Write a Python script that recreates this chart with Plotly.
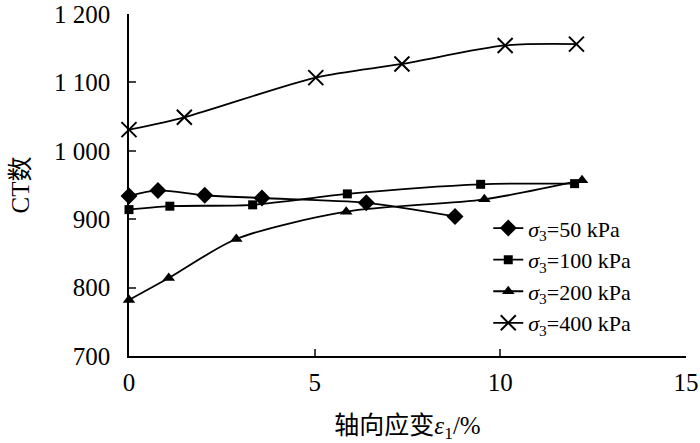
import plotly.graph_objects as go

# Data
x50 = [0, 0.78, 2.04, 3.58, 6.39, 8.78]
y50 = [934, 942, 935, 931, 924, 904]
x100 = [0, 1.1, 3.33, 5.88, 9.47, 12.0]
y100 = [914, 919, 921, 937, 951, 952]
x200 = [0, 1.07, 2.89, 5.85, 9.57, 12.2]
y200 = [782, 814, 871, 911, 929, 957]
x400 = [0, 1.49, 5.03, 7.35, 10.13, 12.05]
y400 = [1031, 1049, 1107, 1127, 1154, 1156]

names = ["<i>σ</i><sub>3</sub>=50 kPa", "<i>σ</i><sub>3</sub>=100 kPa",
         "<i>σ</i><sub>3</sub>=200 kPa", "<i>σ</i><sub>3</sub>=400 kPa"]
xticks = [0, 5, 10, 15]
yticks = [700, 800, 900, 1000, 1100, 1200]
yticktext = ["700", "800", "900", "1 000", "1 100", "1 200"]

FONT = "Liberation Serif, Times New Roman, Noto Sans CJK SC, serif"

fig = go.Figure()
series = [
    (x50, y50, names[0], dict(symbol="diamond", size=13, color="black")),
    (x100, y100, names[1], dict(symbol="square", size=9, color="black")),
    (x200, y200, names[2], dict(symbol="triangle-up", size=11, color="black")),
    (x400, y400, names[3], dict(symbol="x-thin", size=15, color="black",
                                line=dict(width=2, color="black"))),
]
for xs, ys, nm, mk in series:
    fig.add_trace(go.Scatter(
        x=xs, y=ys, name=nm, mode="lines+markers",
        line=dict(color="black", width=1.8, shape="spline", smoothing=0.8),
        marker=mk, cliponaxis=False,
    ))

fig.update_layout(
    width=700, height=443,
    margin=dict(l=129, r=14, t=13.5, b=87),
    plot_bgcolor="white", paper_bgcolor="white",
    font=dict(family=FONT, size=25, color="black"),
    showlegend=True,
    legend=dict(x=0.645, y=0.435, xanchor="left", yanchor="top",
                bgcolor="rgba(0,0,0,0)", font=dict(size=22, family=FONT),
                tracegroupgap=0, itemwidth=30),
    xaxis=dict(range=[0, 15], tickvals=xticks, ticks="inside", ticklen=7,
               tickwidth=1.5, showline=True, linecolor="black", linewidth=1.5,
               showgrid=False, zeroline=False, mirror=False, automargin=False,
               ticklabelstandoff=3, ticklabeloverflow="allow",
               title=dict(text="轴向应变<i>ε</i><sub>1</sub>/%", standoff=22,
                          font=dict(size=25))),
    yaxis=dict(range=[700, 1200], tickvals=yticks, ticktext=yticktext,
               ticks="inside", ticklen=7, tickwidth=1.5, showline=True,
               linecolor="black", linewidth=1.5, showgrid=False, zeroline=False,
               automargin=False, ticklabelstandoff=12, ticklabeloverflow="allow",
               title=dict(text="CT数", standoff=17, font=dict(size=25))),
)

# remove the browser's default 8px page margin so the figure fills the window
fig.write_html("out.html",
               config={"displayModeBar": False},
               post_script="document.body.style.margin='0';")
